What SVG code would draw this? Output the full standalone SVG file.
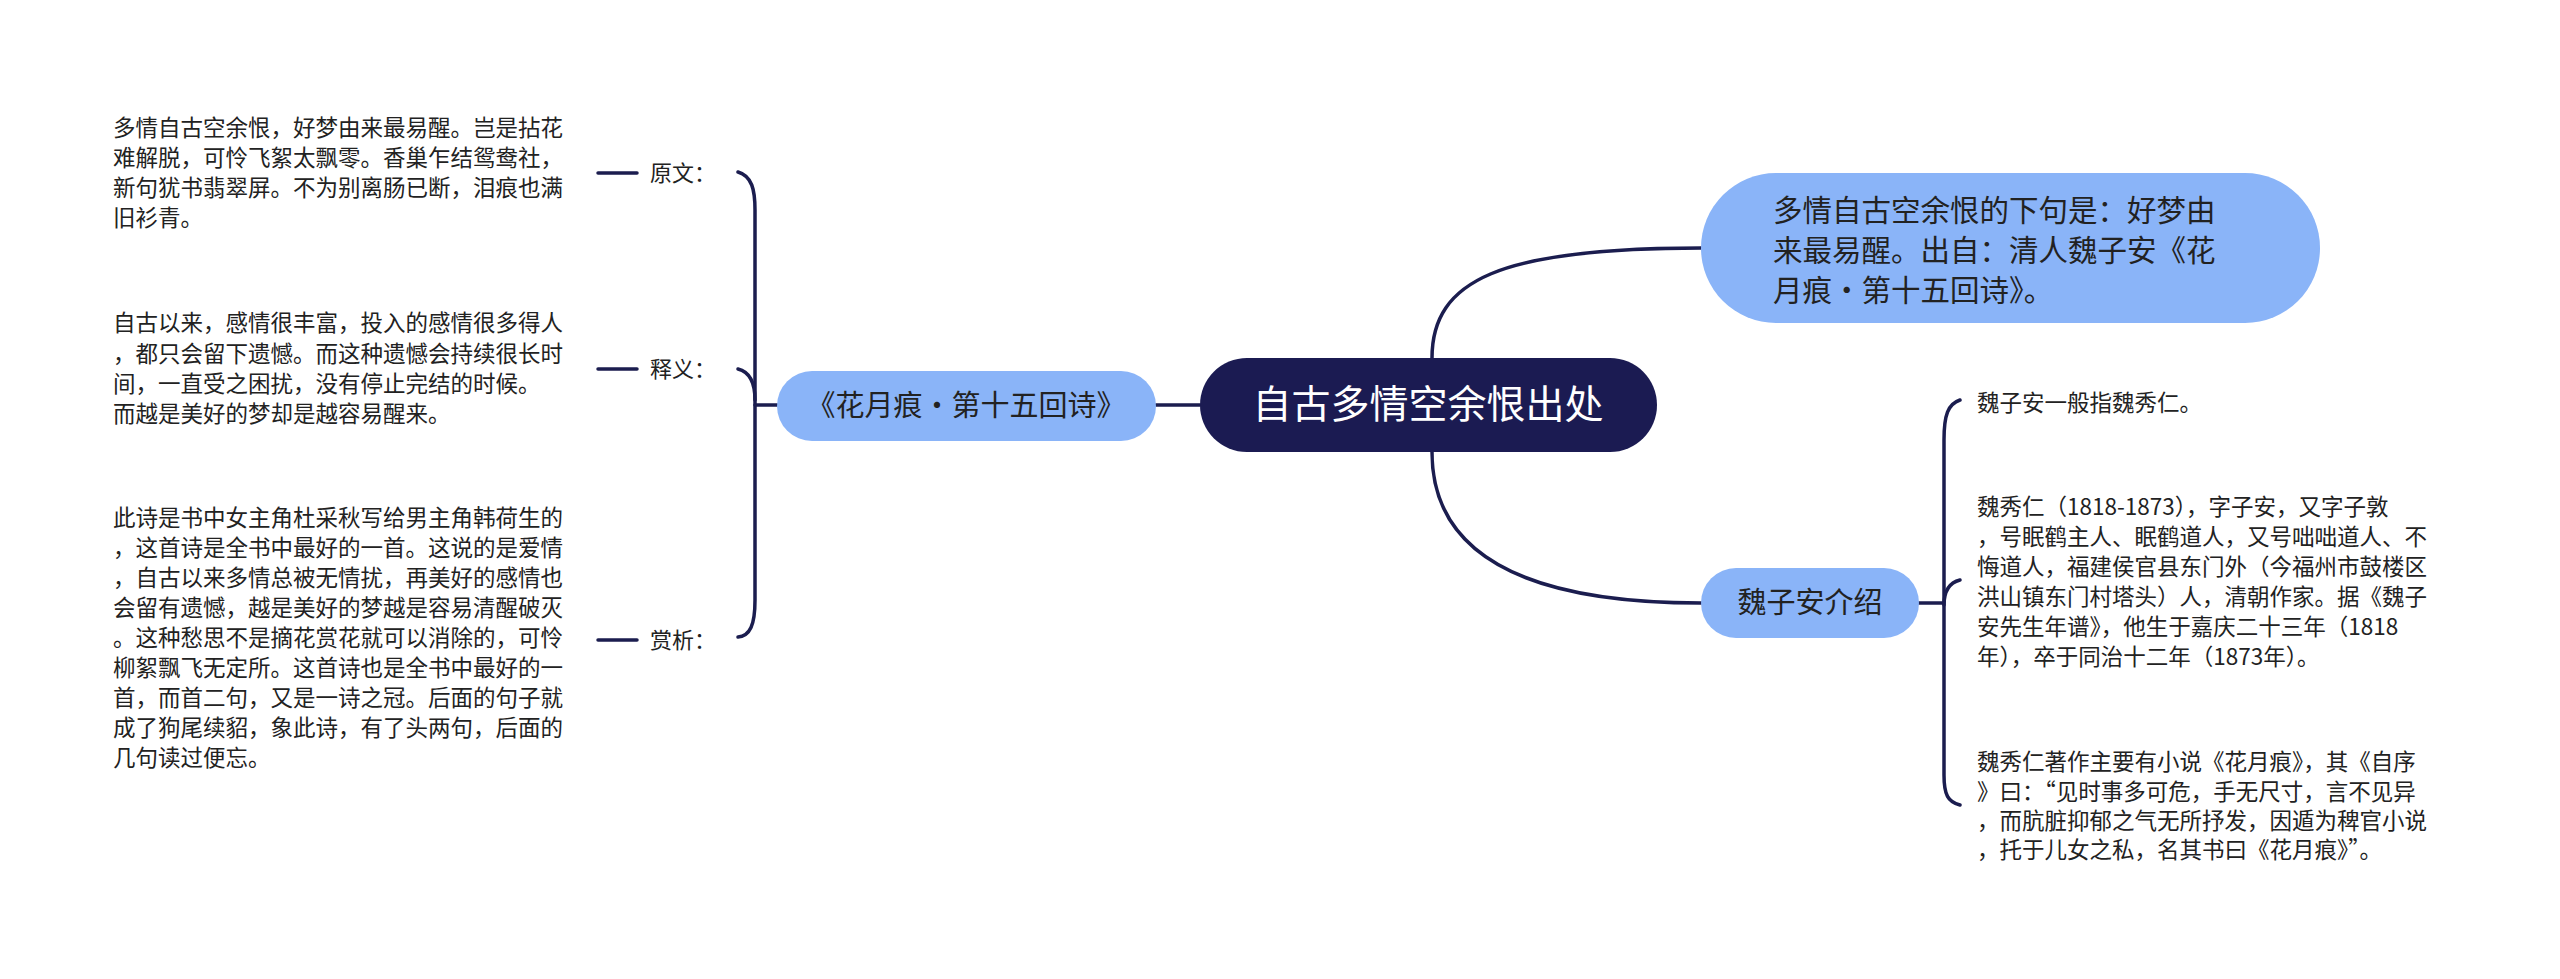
<svg xmlns="http://www.w3.org/2000/svg" width="2560" height="979" viewBox="0 0 2560 979">
<style>
text{font-family:"Noto Sans CJK SC","Noto Sans",sans-serif;fill:#222}
.p{font-size:22.5px}
.lb{font-size:22px}
.c{fill:none;stroke:#1b1d4f;stroke-width:3.5;stroke-linecap:round}
.blue{fill:#8ab4f8}
</style>
<rect width="2560" height="979" fill="#fff"/>
<g id="connectors">
<path class="c" d="M1432 358 C1432 280 1500 248 1701 248"/>
<path class="c" d="M1432 452 C1432 540 1500 603 1701 603"/>
<path class="c" d="M1200 405 H1156"/>
<path class="c" d="M777 405 H755"/>
<path class="c" d="M738 172 C752 176 755 190 755 210 V600 C755 625 750 636 738 637"/>
<path class="c" d="M738 369 C750 372 755 382 755 400"/>
<path class="c" d="M637 173 H598"/>
<path class="c" d="M637 369 H598"/>
<path class="c" d="M637 640 H598"/>
<path class="c" d="M1919 603 H1943"/>
<path class="c" d="M1960 400 C1948 404 1944 415 1944 440 V775 C1944 795 1948 802 1960 805"/>
<path class="c" d="M1960 580 C1948 583 1944 592 1944 605"/>
</g>
<g id="root"><rect x="1200" y="358" width="457" height="94" rx="47" fill="#1b1b52"/>
<text x="1428" y="418" font-size="39" text-anchor="middle" style="fill:#fff">自古多情空余恨出处</text></g>
<g id="n-source"><rect class="blue" x="1701" y="173" width="619" height="150" rx="75"/>
<text x="1773" y="221" font-size="29.5">多情自古空余恨的下句是：好梦由</text>
<text x="1773" y="261" font-size="29.5">来最易醒。出自：清人魏子安《花</text>
<text x="1773" y="301" font-size="29.5">月痕·第十五回诗》。</text></g>
<g id="n-poem"><rect class="blue" x="777" y="371" width="379" height="70" rx="35"/>
<text x="966" y="416" font-size="29" text-anchor="middle">《花月痕·第十五回诗》</text></g>
<g id="n-wei"><rect class="blue" x="1701" y="568" width="218" height="70" rx="35"/>
<text x="1810" y="613" font-size="29" text-anchor="middle">魏子安介绍</text></g>
<g id="l-yuanwen"><text class="lb" x="650" y="181">原文：</text></g>
<g id="l-shiyi"><text class="lb" x="650" y="377">释义：</text></g>
<g id="l-shangxi"><text class="lb" x="650" y="648">赏析：</text></g>
<g id="t-yuanwen" class="p">
<text class="p" x="113" y="136">多情自古空余恨，好梦由来最易醒。岂是拈花</text>
<text class="p" x="113" y="166">难解脱，可怜飞絮太飘零。香巢乍结鸳鸯社，</text>
<text class="p" x="113" y="196">新句犹书翡翠屏。不为别离肠已断，泪痕也满</text>
<text class="p" x="113" y="226">旧衫青。</text></g>
<g id="t-shiyi">
<text class="p" x="113" y="331">自古以来，感情很丰富，投入的感情很多得人</text>
<text class="p" x="113" y="362">，都只会留下遗憾。而这种遗憾会持续很长时</text>
<text class="p" x="113" y="392">间，一直受之困扰，没有停止完结的时候。</text>
<text class="p" x="113" y="422">而越是美好的梦却是越容易醒来。</text></g>
<g id="t-shangxi">
<text class="p" x="113" y="526">此诗是书中女主角杜采秋写给男主角韩荷生的</text>
<text class="p" x="113" y="556">，这首诗是全书中最好的一首。这说的是爱情</text>
<text class="p" x="113" y="586">，自古以来多情总被无情扰，再美好的感情也</text>
<text class="p" x="113" y="616">会留有遗憾，越是美好的梦越是容易清醒破灭</text>
<text class="p" x="113" y="646">。这种愁思不是摘花赏花就可以消除的，可怜</text>
<text class="p" x="113" y="676">柳絮飘飞无定所。这首诗也是全书中最好的一</text>
<text class="p" x="113" y="706">首，而首二句，又是一诗之冠。后面的句子就</text>
<text class="p" x="113" y="736">成了狗尾续貂，象此诗，有了头两句，后面的</text>
<text class="p" x="113" y="766">几句读过便忘。</text></g>
<g id="t-wei1"><text class="p" x="1977" y="411">魏子安一般指魏秀仁。</text></g>
<g id="t-wei2">
<text class="p" x="1977" y="515">魏秀仁（1818-1873），字子安，又字子敦</text>
<text class="p" x="1977" y="545">，号眠鹤主人、眠鹤道人，又号咄咄道人、不</text>
<text class="p" x="1977" y="575">悔道人，福建侯官县东门外（今福州市鼓楼区</text>
<text class="p" x="1977" y="605">洪山镇东门村塔头）人，清朝作家。据《魏子</text>
<text class="p" x="1977" y="635">安先生年谱》，他生于嘉庆二十三年（1818</text>
<text class="p" x="1977" y="665">年），卒于同治十二年（1873年）。</text></g>
<g id="t-wei3">
<text class="p" x="1977" y="770">魏秀仁著作主要有小说《花月痕》，其《自序</text>
<text class="p" x="1977" y="800">》曰：“见时事多可危，手无尺寸，言不见异</text>
<text class="p" x="1977" y="829">，而肮脏抑郁之气无所抒发，因遁为稗官小说</text>
<text class="p" x="1977" y="858">，托于儿女之私，名其书曰《花月痕》”。</text></g>
</svg>
